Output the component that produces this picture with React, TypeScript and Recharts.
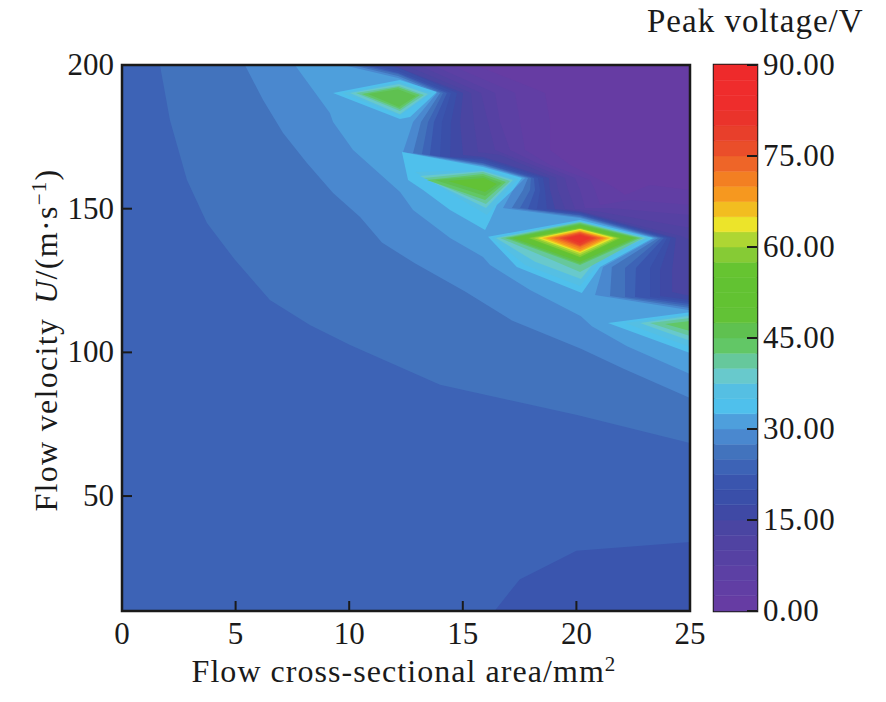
import React from 'react';
import {
  Area,
  Bar,
  BarChart,
  ComposedChart,
  ReferenceArea,
  XAxis,
  YAxis,
} from 'recharts';

type Pt = [number, number];

const xTicks = [0, 5, 10, 15, 20, 25];
const yTicks = [50, 100, 150, 200];
const barTicks = [0, 15, 30, 45, 60, 75, 90];
const levelStep = 2.5;

// one colour per 2.5 V step, from 0 V up to 90 V
const levelColors = [
  '#663ca3', '#613ea4', '#5c40a4', '#5641a3', '#5043a2', '#4a45a2',
  '#3f49a5', '#3a4fa9', '#3a55ae', '#3d63b6', '#4273bd', '#4a88cf',
  '#4e9fdc', '#4fc0ec', '#55bfe3', '#68c9cc', '#66c89c', '#62c766',
  '#5fc150', '#62c236', '#62c232', '#62c232', '#66c431', '#86cb35',
  '#aed633', '#ece42a', '#f2bd20', '#f6981f', '#f37f22', '#ee6528',
  '#ea4e2a', '#e83f2b', '#ea332b', '#ee2d2c', '#ef2c2c', '#ee2a2b',
];

// contour outlines, [area mm2, velocity m/s]
const fullPlot: Pt[] = [[0, 10], [25, 10], [25, 200], [0, 200], [0, 10]];
const lowCorner: Pt[] = [[16.4, 10], [17.5, 21], [20, 31], [25, 34], [25, 10], [16.4, 10]];

const band25: Pt[] = [[1.67, 200], [2.11, 180.9], [2.86, 160], [3.74, 145], [4.97, 132.2], [6.51, 118.2], [8.27, 109.5], [10.04, 102.6], [14, 88.7], [20.03, 78.2], [25, 68.5], [25, 200]];
const band27: Pt[] = [[5.41, 200], [6.21, 187.8], [7.09, 176.3], [8.14, 165.9], [9.29, 155.5], [10.48, 147.1], [11.44, 138.2], [12.89, 131], [15.1, 121.2], [17.16, 111.1], [20.2, 101.3], [22.1, 94.2], [25, 84.1], [25, 200]];
const band30: Pt[] = [[7.61, 200], [9.15, 183.3], [9.29, 180.2], [10.17, 170.4], [12.24, 155.8], [12.81, 149.5], [14.44, 139.8], [15.89, 133.2], [16.2, 130.4], [17.96, 121.7], [20.2, 112.6], [20.68, 109.1], [22.23, 102.1], [25, 92.5], [25, 200]];

const fall30: Pt[] = [[9.73, 200], [12.15, 195.5], [13.86, 190.3], [12.81, 180.2], [12.37, 169.7], [15.89, 164.9], [17.74, 160.7], [17.21, 156.5], [16.77, 150.2], [20.16, 146.8], [23.46, 139.8], [21.17, 129.7], [20.82, 120], [25, 114.7], [25, 200]];
const fall27: Pt[] = [[10.12, 200], [12.15, 196.2], [14, 190.3], [13.16, 180.2], [12.81, 169.4], [15.89, 165.2], [17.87, 160.7], [17.65, 156.5], [17.16, 150.2], [20.16, 147.1], [23.59, 139.8], [21.56, 129.7], [21.48, 119.6], [25, 115.4], [25, 200]];
const fall25: Pt[] = [[10.39, 200], [12.15, 196.9], [14.13, 190.3], [13.47, 180.2], [13.2, 169], [15.89, 165.6], [18, 160.7], [17.96, 156.5], [17.52, 150.2], [20.16, 147.5], [23.72, 139.8], [22.14, 129.4], [22.14, 119.3], [25, 116.1], [25, 200]];
const fall22: Pt[] = [[10.69, 200], [12.15, 197.2], [14.3, 190.3], [13.73, 180.2], [13.55, 168.7], [15.89, 165.9], [18.13, 160.7], [18.18, 156.5], [17.87, 149.9], [20.16, 147.8], [23.85, 139.8], [22.62, 129.4], [22.58, 119.3], [25, 116.8], [25, 200]];
const fall20: Pt[] = [[11, 200], [12.15, 197.9], [14.48, 190.3], [14.08, 180.2], [14, 168.3], [15.89, 166.6], [18.31, 160.7], [18.4, 156.5], [18.26, 149.9], [20.16, 148.2], [23.99, 139.8], [23.24, 129.4], [23.24, 119.3], [25, 117.5], [25, 200]];
const fall17: Pt[] = [[11.44, 200], [12.15, 199], [14.74, 190.3], [14.48, 180.2], [14.44, 168], [15.89, 167.3], [18.53, 160.7], [18.62, 156.5], [18.7, 149.9], [20.16, 148.5], [24.16, 139.8], [23.68, 128.7], [23.68, 119.6], [25, 118.2], [25, 200]];
const fall15: Pt[] = [[11.88, 200], [15.01, 190.3], [14.88, 180.2], [15.01, 168.7], [15.89, 168], [18.79, 160.7], [18.84, 156.5], [19.06, 149.9], [20.16, 148.9], [24.38, 139.8], [24.21, 128.7], [24.21, 121], [25, 119.6], [25, 200]];
const fall12: Pt[] = [[12.45, 200], [15.36, 190.3], [15.49, 180.2], [15.67, 169.7], [16.64, 168.7], [19.1, 160.7], [19.19, 156.5], [19.5, 149.9], [20.16, 149.2], [24.6, 140.5], [25, 139.1], [25, 200]];
const fall10: Pt[] = [[13.03, 200], [15.8, 190.3], [16.11, 180.2], [16.42, 170.4], [17.52, 166.9], [19.5, 160.7], [19.63, 156.5], [19.94, 149.9], [21.04, 148.9], [25, 143.3], [25, 200]];
const fall7: Pt[] = [[13.64, 200], [16.42, 190.3], [16.64, 180.2], [17.08, 170.4], [18.18, 166.2], [19.94, 160.7], [20.16, 156.5], [20.38, 150.2], [21.48, 150.2], [25, 147.8], [25, 200]];
const fall5: Pt[] = [[14.44, 200], [17.3, 190.3], [17.52, 180.2], [17.74, 170.4], [18.84, 165.2], [20.6, 160], [20.82, 156.5], [21.04, 151.3], [22.36, 153], [25, 151.3], [25, 200]];
const fall2: Pt[] = [[15.54, 200], [18.62, 190.3], [18.84, 180.2], [18.84, 170.4], [19.72, 165.2], [21.48, 158.2], [21.83, 156.5], [22.14, 154.8], [23.24, 158.2], [25, 156.5], [25, 200]];

const peakA32: Pt[] = [[9.29, 190.3], [12.23, 194.8], [13.86, 190.6], [12.68, 181.9], [12.23, 181.2]];
const peakA35: Pt[] = [[9.68, 190.3], [12.23, 194.1], [13.64, 190.3], [12.23, 182.3]];
const peakA37: Pt[] = [[10.03, 190.3], [12.19, 193.4], [13.47, 189.9], [12.23, 182.9]];
const peakA40: Pt[] = [[10.3, 190.3], [12.19, 192.7], [13.29, 189.6], [12.23, 184]];
const peakA42: Pt[] = [[10.56, 189.9], [12.15, 192.3], [13.11, 189.6], [12.23, 184.7]];
const peakA45: Pt[] = [[10.83, 189.9], [12.15, 191.6], [12.94, 189.2], [12.19, 185.4]];

const peakB32: Pt[] = [[12.32, 169.7], [15.89, 164.5], [17.6, 160.7], [17.21, 156.5], [16.5, 151.3], [16.2, 146.1], [15.98, 142.6], [14.44, 149.5], [13.25, 156.5], [12.59, 160]];
const peakB35: Pt[] = [[12.9, 162.8], [15.89, 163.5], [17.43, 160.3], [16.06, 147.8]];
const peakB37: Pt[] = [[13.11, 161.4], [15.89, 163.1], [17.21, 160], [16.02, 150.2]];
const peakB40: Pt[] = [[13.29, 160.7], [15.89, 162.8], [17.08, 159.6], [16.02, 151.6]];
const peakB42: Pt[] = [[13.42, 160], [15.89, 162.1], [16.9, 159.3], [15.98, 153]];
const peakB45: Pt[] = [[13.78, 160], [15.89, 161.4], [16.72, 158.9], [15.98, 154.4]];
const peakB47: Pt[] = [[14.35, 159.6], [15.93, 160.7], [16.5, 158.6], [15.98, 155.8]];

const peakC32: Pt[] = [[16.11, 140.2], [20.16, 146.1], [23.37, 139.8], [21.04, 129.7], [20.24, 120.7], [17.38, 129.7]];
const peakC35: Pt[] = [[16.28, 139.8], [20.16, 145.7], [23.24, 139.8], [21.04, 131.4], [20.16, 123.1], [17.74, 130.4]];
const peakC37: Pt[] = [[16.46, 139.8], [20.16, 145.4], [23.06, 139.8], [20.95, 132.8], [20.2, 125.5], [18.18, 131.5]];
const peakC40: Pt[] = [[16.64, 139.8], [20.16, 145.4], [22.93, 139.8], [20.16, 128]];
const peakC42: Pt[] = [[16.86, 139.8], [20.16, 145], [22.8, 139.8], [20.16, 130.4]];
const peakC45: Pt[] = [[17.03, 139.8], [20.16, 144.7], [22.67, 139.8], [20.16, 130.8]];
const peakC47: Pt[] = [[17.21, 139.8], [20.16, 144.3], [22.53, 139.8], [20.16, 131.5]];
const peakC55: Pt[] = [[17.74, 139.8], [20.16, 143.6], [22.09, 139.8], [20.16, 132.8]];
const peakC57: Pt[] = [[17.91, 139.8], [20.16, 143.3], [21.92, 139.8], [20.16, 133.2]];
const peakC60: Pt[] = [[18.13, 139.8], [20.16, 142.9], [21.79, 139.8], [20.16, 133.9]];
const peakC62: Pt[] = [[18.31, 139.8], [20.16, 142.9], [21.65, 139.8], [20.16, 134.6]];
const peakC65: Pt[] = [[18.48, 139.8], [20.16, 142.6], [21.48, 139.8], [20.16, 134.9]];
const peakC67: Pt[] = [[18.66, 139.8], [20.16, 142.2], [21.34, 139.8], [20.16, 135.3]];
const peakC70: Pt[] = [[18.84, 139.8], [20.16, 141.9], [21.21, 139.8], [20.16, 136]];
const peakC72: Pt[] = [[19.01, 139.8], [20.16, 141.9], [21.08, 139.8], [20.16, 136.7]];
const peakC75: Pt[] = [[19.23, 139.8], [20.16, 141.5], [20.91, 139.8], [20.16, 137]];
const peakC77: Pt[] = [[19.41, 139.8], [20.16, 141.2], [20.78, 139.8], [20.16, 137.4]];
const peakC80: Pt[] = [[19.58, 139.8], [20.16, 140.8], [20.6, 139.8], [20.16, 138.1]];

const peakD32: Pt[] = [[21.39, 110.2], [25, 114], [25, 99.8]];
const peakD35: Pt[] = [[22.14, 110.2], [25, 113.3], [25, 101.9]];
const peakD37: Pt[] = [[22.8, 110.2], [25, 112.7], [25, 104]];
const peakD40: Pt[] = [[23.24, 110.2], [25, 112], [25, 105.7]];
const peakD42: Pt[] = [[23.9, 109.9], [25, 110.9], [25, 107.4]];

// painted back to front: [outline, index into levelColors]
const layers: [Pt[], number][] = [
  [fullPlot, 9], [lowCorner, 8], [band25, 10], [band27, 11], [band30, 12],
  [fall30, 11], [fall27, 10], [fall25, 9], [fall22, 8], [fall20, 7], [fall17, 6],
  [fall15, 5], [fall12, 4], [fall10, 3], [fall7, 2], [fall5, 1], [fall2, 0],
  [peakA32, 13], [peakA35, 14], [peakA37, 15], [peakA40, 16], [peakA42, 17], [peakA45, 18],
  [peakB32, 13], [peakB35, 14], [peakB37, 15], [peakB40, 16], [peakB42, 17], [peakB45, 18], [peakB47, 19],
  [peakC32, 13], [peakC35, 14], [peakC37, 15], [peakC40, 16], [peakC42, 17], [peakC45, 18], [peakC47, 19],
  [peakC55, 22], [peakC57, 23], [peakC60, 24], [peakC62, 25], [peakC65, 26], [peakC67, 27], [peakC70, 28],
  [peakC72, 29], [peakC75, 30], [peakC77, 31], [peakC80, 32],
  [peakD32, 13], [peakD35, 14], [peakD37, 15], [peakD40, 16], [peakD42, 17],
];

const serif = '"Liberation Serif", serif';
const ink = '#1a1a1a';

const barRow = [Object.fromEntries(levelColors.map((_, i) => ['l' + i, levelStep]))];

function XTick({ x, y, payload }: any) {
  return (
    <g>
      <line x1={x} x2={x} y1={y} y2={y - 10} stroke={ink} strokeWidth={2} />
      <text x={x} y={y + 33} textAnchor="middle" fontFamily={serif} fontSize={31} fill={ink}>{payload.value}</text>
    </g>
  );
}

function YTick({ x, y, payload }: any) {
  return (
    <g>
      <line x1={x} x2={x + 10} y1={y} y2={y} stroke={ink} strokeWidth={2} />
      <text x={x - 8} y={y + 10} textAnchor="end" fontFamily={serif} fontSize={31} fill={ink}>{payload.value}</text>
    </g>
  );
}

function BarTick({ x, y, payload }: any) {
  return (
    <g>
      <line x1={x} x2={x - 10} y1={y} y2={y} stroke={ink} strokeWidth={2} />
      <text x={x + 6} y={y + 10} fontFamily={serif} fontSize={31} letterSpacing={0.5} fill={ink}>{payload.value.toFixed(2)}</text>
    </g>
  );
}

export default function App() {
  return (
    <div style={{ position: 'absolute', left: 0, top: 0, width: 886, height: 702, background: '#fff' }}>
      <div style={{ position: 'absolute', left: 0, top: 0 }}>
        <ComposedChart width={886} height={702} margin={{ top: 65, right: 196, bottom: 0, left: 0 }}>
          {layers.map(([outline, level], i) => (
            <Area
              key={i}
              data={[...outline, outline[0]]}
              dataKey={(d: Pt) => [d[1], 200]}
              type="linear"
              stroke="none"
              fill={levelColors[level]}
              fillOpacity={1}
              dot={false}
              activeDot={false}
              isAnimationActive={false}
            />
          ))}
          <ReferenceArea x1={0} x2={25} y1={10} y2={200} fill="none" stroke={ink} strokeWidth={2.5} ifOverflow="visible" />
          <XAxis
            type="number"
            dataKey={(d: Pt) => d[0]}
            domain={[0, 25]}
            ticks={xTicks}
            height={91}
            axisLine={false}
            tickLine={false}
            tickSize={0}
            tickMargin={0}
            tick={<XTick />}
            interval={0}
          />
          <YAxis
            type="number"
            domain={[10, 200]}
            ticks={yTicks}
            width={122}
            axisLine={false}
            tickLine={false}
            tickSize={0}
            tickMargin={0}
            tick={<YTick />}
            interval={0}
          />
          <text x={404} y={682} textAnchor="middle" fontFamily={serif} fontSize={32} letterSpacing={1.05} fill={ink}>
            Flow cross-sectional area/mm<tspan dy={-11} fontSize={21}>2</tspan>
          </text>
          <text x={57} y={340} textAnchor="middle" transform="rotate(-90 57 340)" fontFamily={serif} fontSize={32} letterSpacing={1.3} fill={ink}>
            Flow velocity<tspan dx={14} fontStyle="italic">U</tspan>/(m·s<tspan dy={-11} fontSize={21}>−1</tspan><tspan dy={11}>)</tspan>
          </text>
        </ComposedChart>
      </div>
      <div style={{ position: 'absolute', left: 0, top: 0 }}>
        <BarChart width={886} height={702} data={barRow} barCategoryGap={0} margin={{ top: 65, right: 0, bottom: 91, left: 714 }}>
          <XAxis hide type="category" />
          {levelColors.map((c, i) => (
            <Bar key={i} dataKey={'l' + i} stackId="scale" fill={c} stroke={c} strokeWidth={0.5} isAnimationActive={false} />
          ))}
          <ReferenceArea y1={0} y2={90} fill="none" stroke={ink} strokeWidth={2.5} ifOverflow="visible" />
          <YAxis
            orientation="right"
            type="number"
            domain={[0, 90]}
            ticks={barTicks}
            width={129}
            axisLine={false}
            tickLine={false}
            tickSize={0}
            tickMargin={0}
            tick={<BarTick />}
            interval={0}
          />
          <text x={647} y={32} fontFamily={serif} fontSize={33} letterSpacing={1} fill={ink}>Peak voltage/V</text>
        </BarChart>
      </div>
    </div>
  );
}
